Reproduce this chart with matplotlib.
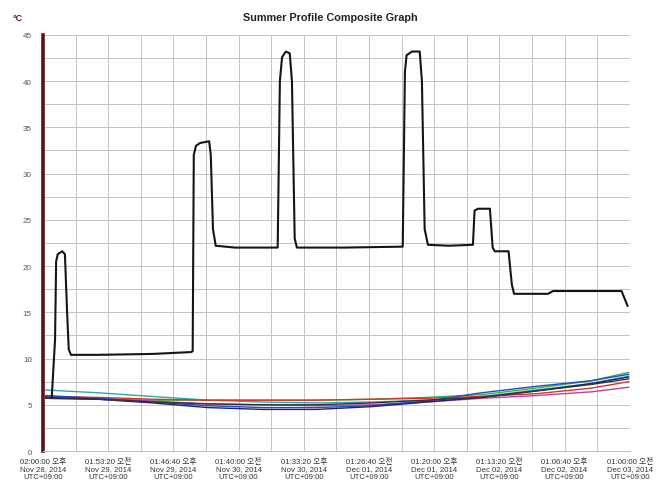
import matplotlib
matplotlib.use('Agg')
import matplotlib.pyplot as plt
from matplotlib.ticker import MultipleLocator

plt.rcParams['font.family'] = ['Liberation Sans', 'Noto Sans CJK KR', 'DejaVu Sans']

# time axis in hours since 02:00:00 PM Nov 28, 2014; label step 11:53:20
step_h = 42800 / 3600.0
tick_labels = [
    '02:00:00 오후\nNov 28, 2014\nUTC+09:00',
    '01:53:20 오전\nNov 29, 2014\nUTC+09:00',
    '01:46:40 오후\nNov 29, 2014\nUTC+09:00',
    '01:40:00 오전\nNov 30, 2014\nUTC+09:00',
    '01:33:20 오후\nNov 30, 2014\nUTC+09:00',
    '01:26:40 오전\nDec 01, 2014\nUTC+09:00',
    '01:20:00 오후\nDec 01, 2014\nUTC+09:00',
    '01:13:20 오전\nDec 02, 2014\nUTC+09:00',
    '01:06:40 오후\nDec 02, 2014\nUTC+09:00',
    '01:00:00 오전\nDec 03, 2014\nUTC+09:00',
]

# hot probe (black)
hot_t = [1.6, 2.2, 2.4, 2.7, 3.5, 4.0, 4.4, 4.7, 5.1, 10, 20, 27.0, 27.3,
         27.5, 27.9, 28.6, 30.3, 30.6, 31.0, 31.5, 35, 42.8,
         43.2, 43.6, 44.3, 45.0, 45.4, 45.9, 46.3, 55, 65.6,
         66.0, 66.3, 67.3, 68.7, 69.1, 69.6, 70.2, 74, 78.4,
         78.7, 79.3, 81.5, 82.0, 82.4, 84.9,
         85.5, 85.9, 92.1, 93.0, 105.5, 106.6]
hot_v = [5.8, 12.0, 20.5, 21.3, 21.6, 21.3, 15.0, 11.0, 10.4, 10.4, 10.5, 10.7, 10.8,
         32.0, 33.0, 33.3, 33.5, 32.0, 24.0, 22.2, 22.0, 22.0,
         40.0, 42.6, 43.2, 43.0, 40.0, 23.0, 22.0, 22.0, 22.1,
         41.0, 42.8, 43.2, 43.2, 40.0, 24.0, 22.3, 22.2, 22.3,
         26.0, 26.2, 26.2, 22.0, 21.6, 21.6,
         18.0, 17.0, 17.0, 17.3, 17.3, 15.7]

# cold probes
cold_t = [0.5, 10, 20, 30, 40, 50, 60, 70, 80, 90, 100, 106.8]
teal = [6.6, 6.3, 5.9, 5.5, 5.3, 5.2, 5.3, 5.5, 5.9, 6.6, 7.3, 8.1]
blue = [6.0, 5.7, 5.3, 4.9, 4.7, 4.7, 4.9, 5.4, 6.3, 7.0, 7.6, 8.3]
navy = [5.8, 5.6, 5.2, 4.7, 4.5, 4.5, 4.8, 5.3, 5.8, 6.5, 7.3, 8.0]
green = [5.7, 5.6, 5.5, 5.5, 5.5, 5.5, 5.6, 5.8, 6.1, 6.8, 7.6, 8.5]
red = [5.9, 5.8, 5.6, 5.5, 5.5, 5.5, 5.6, 5.7, 5.9, 6.2, 6.8, 7.5]
magenta = [5.9, 5.7, 5.4, 5.1, 5.0, 4.9, 5.0, 5.3, 5.7, 6.0, 6.4, 6.9]
dark = [5.7, 5.6, 5.3, 5.1, 5.0, 5.0, 5.2, 5.5, 5.8, 6.5, 7.2, 7.8]

fig = plt.figure(figsize=(6.56, 4.85), dpi=100)
ax = fig.add_axes([0.0655, 0.068, 0.8945, 0.858])

for vals, col in [(teal, '#2aa8b0'), (green, '#3cb043'), (red, '#e0302a'),
                  (magenta, '#c0409a'), (blue, '#2448c8'), (navy, '#1c2470'),
                  (dark, '#333333')]:
    ax.plot(cold_t, vals, color=col, lw=1.0)

ax.plot(hot_t, hot_v, color='#151515', lw=1.5)

ax.set_xlim(0, 9 * step_h)
ax.set_ylim(0, 45)
ax.set_xticks([i * step_h for i in range(10)])
ax.set_xticklabels(tick_labels, fontsize=5.6, color='#333333', linespacing=1.15)
ax.xaxis.set_minor_locator(MultipleLocator(step_h / 2))
ax.yaxis.set_major_locator(MultipleLocator(5))
ax.yaxis.set_minor_locator(MultipleLocator(2.5))
ax.tick_params(axis='both', which='both', length=0)
ax.tick_params(axis='y', labelsize=5.8, labelcolor='#555555', pad=8)
ax.tick_params(axis='x', pad=4)
ax.grid(True, which='both', color='#c4c4c4', lw=0.7)

for s in ['top', 'right']:
    ax.spines[s].set_visible(False)
ax.spines['bottom'].set_color('#bdbdbd')
ax.spines['bottom'].set_linewidth(0.7)
ax.spines['left'].set_color('#5a1418')
ax.spines['left'].set_linewidth(2.6)

fig.text(0.503, 0.962, 'Summer Profile Composite Graph', ha='center', va='center',
         fontsize=7.8, fontweight='bold', color='#222222')
fig.text(0.019, 0.962, '°C', ha='left', va='center', fontsize=6.5,
         fontweight='bold', color='#6a1a20')

fig.savefig('out.png', dpi=100)
